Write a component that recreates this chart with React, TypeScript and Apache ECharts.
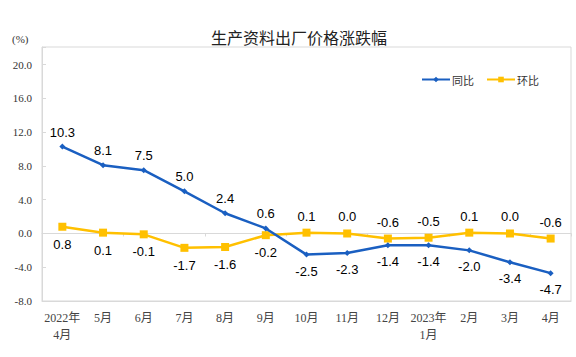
import React, { useEffect, useRef } from "react";
import * as echarts from "echarts";

const categories = ["2022年\n4月", "5月", "6月", "7月", "8月", "9月", "10月", "11月", "12月", "2023年\n1月", "2月", "3月", "4月"];
const yoy = [10.3, 8.1, 7.5, 5.0, 2.4, 0.6, -2.5, -2.3, -1.4, -1.4, -2.0, -3.4, -4.7];
const mom = [0.8, 0.1, -0.1, -1.7, -1.6, -0.2, 0.1, 0.0, -0.6, -0.5, 0.1, 0.0, -0.6];
const yoyLabelBelowFrom = 6; // index from which 同比 labels are below
const momLabelAboveFrom = 6; // index from which 环比 labels are above

export default function App() {
  const ref = useRef<HTMLDivElement>(null);
  useEffect(() => {
    if (!ref.current) return;
    const chart = echarts.init(ref.current, undefined, { renderer: "svg" });
    const labelFont = { color: "#000", fontSize: 13, fontFamily: "Liberation Sans, Arial, sans-serif" };
    const yoyData = yoy.map((v, i) => ({
      value: v,
      label: { position: i >= yoyLabelBelowFrom ? "bottom" : "top", distance: i >= yoyLabelBelowFrom ? 7 : 5 },
    }));
    const momData = mom.map((v, i) => ({
      value: v,
      label: { position: i >= momLabelAboveFrom ? "top" : "bottom", distance: i >= momLabelAboveFrom ? 6 : 7 },
    }));
    chart.setOption({
      animation: false,
      title: {
        text: "生产资料出厂价格涨跌幅",
        left: 294,
        top: 24,
        textAlign: "center",
        textStyle: { fontSize: 16, fontWeight: "normal", color: "#222", fontFamily: "Noto Sans CJK SC, sans-serif" },
      },
      graphic: [
        {
          type: "text",
          left: 12,
          top: 33,
          style: { text: "(%)", fontSize: 11, fill: "#333", fontFamily: "Liberation Serif, serif" },
        },
      ],
      legend: {
        left: 416,
        top: 69,
        itemWidth: 28,
        itemHeight: 7,
        itemGap: 12,
        textStyle: { fontSize: 11, color: "#333", fontFamily: "Noto Sans CJK SC, sans-serif", padding: [0, 0, 0, -3] },
        data: ["同比", "环比"],
      },
      grid: {
        left: 42,
        right: 5,
        top: 47,
        bottom: 56,
        show: true,
        borderColor: "#d9d9d9",
        borderWidth: 1,
      },
      xAxis: [
        {
          type: "category",
          data: categories,
          position: "bottom",
          axisLine: { onZero: false, lineStyle: { color: "#d9d9d9" } },
          axisTick: { show: false },
          axisLabel: {
            interval: 0,
            margin: 8,
            fontSize: 12,
            lineHeight: 17,
            color: "#444",
            fontFamily: "Liberation Serif, Noto Sans CJK SC, serif",
          },
        },
        {
          type: "category",
          data: categories,
          position: "top",
          axisLine: { onZero: true, lineStyle: { color: "#d9d9d9" } },
          axisTick: { show: true, length: 3, inside: true, lineStyle: { color: "#d9d9d9" } },
          axisLabel: { show: false },
        },
      ],
      yAxis: {
        type: "value",
        min: -8,
        max: 22.1,
        interval: 4,
        splitLine: { show: false },
        axisLine: { show: true, lineStyle: { color: "#d9d9d9" } },
        axisTick: { show: true, inside: true, length: 4, lineStyle: { color: "#d9d9d9" } },
        axisLabel: {
          margin: 10,
          fontSize: 11,
          color: "#333",
          fontFamily: "Liberation Serif, serif",
          formatter: (v: number) => (v > 20.01 ? "" : v.toFixed(1)),
        },
      },
      series: [
        {
          name: "同比",
          type: "line",
          data: yoyData,
          symbol: "diamond",
          symbolSize: 6,
          lineStyle: { width: 2.5, color: "#1a5fc1" },
          itemStyle: { color: "#1a5fc1" },
          label: { show: true, formatter: (p: any) => Number(p.value).toFixed(1), ...labelFont },
          z: 3,
        },
        {
          name: "环比",
          type: "line",
          data: momData,
          symbol: "rect",
          symbolSize: 8,
          lineStyle: { width: 2.5, color: "#ffc000" },
          itemStyle: { color: "#ffc000" },
          label: { show: true, formatter: (p: any) => Number(p.value).toFixed(1), ...labelFont },
          z: 2,
        },
      ],
    });
    return () => chart.dispose();
  }, []);
  return <div ref={ref} style={{ width: 576, height: 357, position: "absolute", left: 0, top: 0 }} />;
}
